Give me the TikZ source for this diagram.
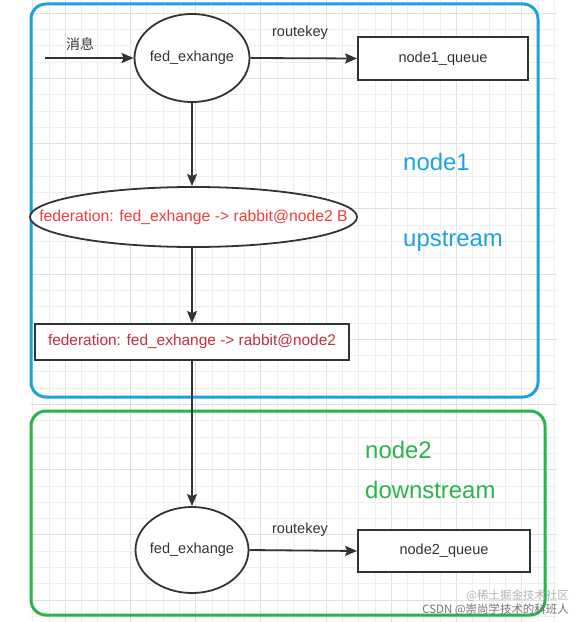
\documentclass[tikz,border=0pt]{standalone}
\usepackage{fontspec}
\setmainfont{Liberation Sans}
\newfontfamily\cjk{Noto Sans CJK SC}
\usetikzlibrary{shapes.geometric,arrows.meta}
\definecolor{bluebox}{HTML}{1BA1E2}
\definecolor{greenbox}{HTML}{2AB24B}
\definecolor{ink}{HTML}{333333}
\definecolor{redtext}{HTML}{F23C3C}
\definecolor{darkred}{HTML}{C0303F}
\definecolor{gridminor}{HTML}{EEEEEE}
\definecolor{gridmajor}{HTML}{E0E0E0}
\tikzset{
  px/.style={x=1bp,y=-1bp},
  shapeline/.style={draw=ink,line width=1.8bp,fill=white,inner sep=0pt},
  ellnode/.style={shapeline,ellipse},
  boxnode/.style={shapeline,rectangle},
  label/.style={text=ink,font=\fontsize{14.6}{16}\selectfont,inner sep=0pt},
  flow/.style={draw=ink,line width=1.8bp,-{Stealth[length=12bp,width=10bp,inset=2bp]}},
  region/.style={line width=3bp,rounded corners=15bp},
  bigtext/.style={font=\fontsize{24}{26}\selectfont,inner sep=0pt,anchor=west},
  wm/.style={font=\cjk\fontsize{11.5}{13}\selectfont,inner sep=0pt,anchor=east}
}
\begin{document}
\begin{tikzpicture}[px]
\useasboundingbox (0,0) rectangle (585,622);
% grid
\foreach \i in {2,...,34} {
  \pgfmathtruncatemacro{\m}{mod(\i,4)}
  \ifnum\m=0
    \draw[gridmajor,line width=0.8bp] ({\i*16.3},0) -- ({\i*16.3},622);
  \else
    \draw[gridminor,line width=0.8bp] ({\i*16.3},0) -- ({\i*16.3},622);
  \fi
}
\foreach \j in {0,...,38} {
  \pgfmathtruncatemacro{\m}{mod(\j,4)}
  \ifnum\m=0
    \draw[gridmajor,line width=0.8bp] (30,{13.2+\j*16.3}) -- (557,{13.2+\j*16.3});
  \else
    \draw[gridminor,line width=0.8bp] (30,{13.2+\j*16.3}) -- (557,{13.2+\j*16.3});
  \fi
}
% regions
\draw[region,bluebox] (31,4) rectangle (538,397);
\draw[region,greenbox] (31,411) rectangle (545,615);
% nodes
\node[ellnode,minimum width=115bp,minimum height=88bp] (e1) at (192,58) {};
\node[label] (e1t) at (e1.center) {fed\_exhange};
\node[boxnode,minimum width=170bp,minimum height=43bp,label] (q1) at (443,58.5) {node1\_queue};
\node[ellnode,minimum width=327bp,minimum height=60bp] (e2) at (193.5,217) {};
\node[label,text=redtext,font=\fontsize{15.8}{17}\selectfont] (e2t) at (e2.center) {federation: fed\_exhange -> rabbit@node2 B};
\node[boxnode,minimum width=314bp,minimum height=36bp,label,text=darkred,font=\fontsize{15.5}{17}\selectfont] (r2) at (192,342) {federation: fed\_exhange -> rabbit@node2};
\node[ellnode,minimum width=113bp,minimum height=86bp] (e3) at (192,550) {};
\node[label] (e3t) at (e3.center) {fed\_exhange};
\node[boxnode,minimum width=172bp,minimum height=42bp,label] (q2) at (444,551) {node2\_queue};
\coordinate (src) at (45,58);
% labels
\node[label,font=\cjk\fontsize{14}{16}\selectfont] (lmsg) at (80,44) {消息};
\node[label] (rk1) at (300,33) {routekey};
\node[label] (rk2) at (300,530) {routekey};
\node[bigtext,text=bluebox] (n1) at (403,162) {node1};
\node[bigtext,text=bluebox] (up) at (403,241) {upstream};
\node[bigtext,text=greenbox] (n2) at (365,450) {node2};
\node[bigtext,text=greenbox] (down) at (365,490) {downstream};
\node[wm,text=black!30] (wm1) at (569,596) {@稀土掘金技术社区};
\node[wm,text=black!55] (wm2) at (569,610) {CSDN @崇尚学技术的科班人};
% connectors
\draw[flow] (src) -- (e1.west);
\draw[flow] (e1.east) -- (q1.west);
\draw[flow] (e1.south) -- (e2.north -| e1.south);
\draw[flow] (e2.south -| e1.south) -- (r2.north -| e1.south);
\draw[flow] (r2.south -| e1.south) -- (e3.north);
\draw[flow] (e3.east) -- (q2.west);
\end{tikzpicture}
\end{document}
